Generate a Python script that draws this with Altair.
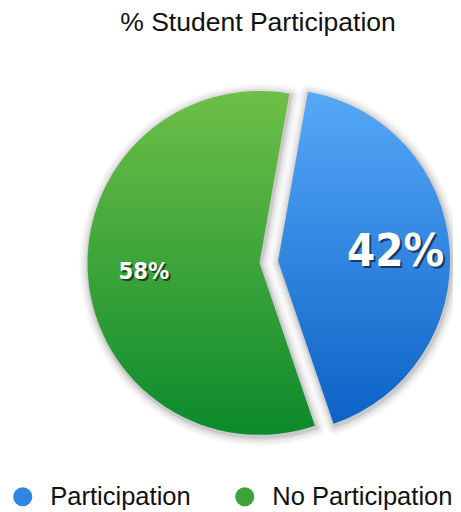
import math
import altair as alt
import pandas as pd

# ---- data ----
categories = ["Participation", "No Participation"]
values = [42, 58]
labels = ["42%", "58%"]
slice_order = [0, 1]

df = pd.DataFrame({"category": categories, "value": values,
                   "label": labels, "order": slice_order})

# ---- layout constants ----
W, H = 453, 464
CX, CY = 256, 215          # pie centre (plot coords)
R = 175                    # pie radius
START = math.radians(10)   # first slice starts 10deg clockwise from 12 o'clock

theta_scale = alt.Scale(domain=[0, 1], range=[START, START + 2 * math.pi])

base = alt.Chart(df).transform_stack(
    stack="value", groupby=[], as_=["v0", "v1"],
    sort=[alt.SortField("order", order="ascending")], offset="normalize"
).transform_calculate(mid="(datum.v0 + datum.v1) / 2")


def grad(top, bottom):
    return alt.Gradient(
        gradient="linear",
        stops=[alt.GradientStop(color=top, offset=0),
               alt.GradientStop(color=bottom, offset=1)],
        x1=0, y1=0, x2=0, y2=1)


def slice_layers(cat, dx, dy, fill, fsize, lr):
    b = base.transform_filter(alt.datum.category == cat)
    enc = dict(theta=alt.Theta("v0:Q", scale=theta_scale),
               theta2=alt.Theta2("v1"),
               x=alt.value(CX), y=alt.value(CY))
    layers = []
    for w, op in [(18, 0.035), (13, 0.045), (8, 0.06), (4, 0.09)]:
        layers.append(b.mark_arc(filled=False, stroke="#000", strokeOpacity=op,
                                 strokeWidth=w, strokeJoin="round", radius=R,
                                 xOffset=dx + 1, yOffset=dy + 2).encode(**enc))
    layers.append(b.mark_arc(fill=fill, radius=R, xOffset=dx, yOffset=dy).encode(**enc))
    tenc = dict(theta=alt.Theta("mid:Q", scale=theta_scale),
                x=alt.value(CX), y=alt.value(CY), text="label:N")
    font = "DejaVu Sans Condensed, sans-serif"
    layers.append(b.mark_text(radius=lr, font=font, fontWeight="bold", fontSize=fsize,
                              color="#000", opacity=0.55, align="center", baseline="middle",
                              xOffset=dx, yOffset=dy, dx=2, dy=2).encode(**tenc))
    layers.append(b.mark_text(radius=lr, font=font, fontWeight="bold", fontSize=fsize,
                              color="#ffffff", align="center", baseline="middle",
                              xOffset=dx, yOffset=dy).encode(**tenc))
    return layers


legend_layer = base.mark_arc(opacity=0, radius=1).encode(
    theta=alt.Theta("v0:Q", scale=theta_scale), theta2=alt.Theta2("v1"),
    x=alt.value(CX), y=alt.value(CY),
    color=alt.Color("category:N", sort=categories,
                    scale=alt.Scale(domain=categories, range=["#2F87E2", "#3CA23A"]),
                    legend=alt.Legend(title=None, orient="none", legendX=2, legendY=440,
                                      direction="horizontal", symbolType="circle",
                                      symbolSize=380, symbolOpacity=1, symbolStrokeWidth=0,
                                      labelFontSize=26, labelFont="Liberation Sans",
                                      labelColor="#111", labelOffset=15, columnPadding=41,
                                      labelLimit=0, padding=0))
)

layers = (slice_layers("No Participation", 0, 0, grad("#6EBF48", "#0C8A2C"), 24, 118)
          + slice_layers("Participation", 19, -2, grad("#56A8F8", "#0C62C6"), 46, 120)
          + [legend_layer])

chart = alt.layer(*layers).properties(
    width=W, height=H,
    title=alt.TitleParams("% Student Participation", font="Liberation Sans",
                          fontSize=27, fontWeight="normal", color="#111",
                          anchor="middle", dx=28, dy=-11),
    autosize=alt.AutoSizeParams(type="none"),
    padding={"left": 0, "top": 40, "right": 0, "bottom": 0},
).configure_view(stroke=None)

chart.save("out.html", embed_options={"renderer": "svg", "actions": False})
